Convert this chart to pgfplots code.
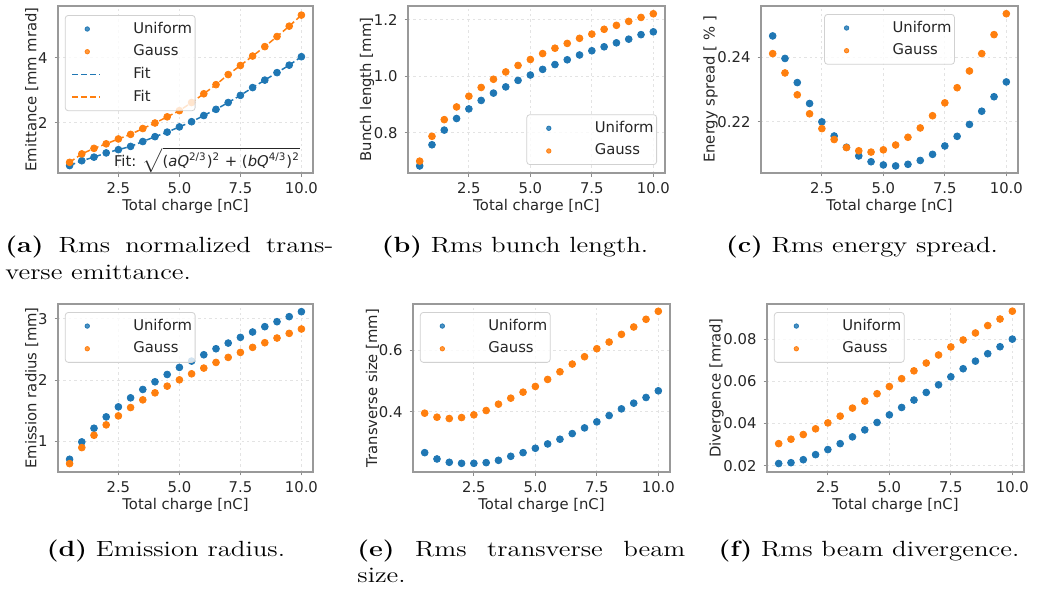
\documentclass[border=0pt]{standalone}
\usepackage{fontspec}
\usepackage{graphicx}
\usepackage{pgfplots}
\usepackage{pgfplotstable}
\pgfplotsset{compat=1.18}
\newfontfamily\dejavu{DejaVu Sans}
\definecolor{tabblue}{HTML}{1F77B4}
\definecolor{taborange}{HTML}{FF7F0E}
\newcommand{\axfont}{\dejavu\fontsize{7.4}{8.5}\selectfont}
\newcommand{\capfont}{\fontsize{11}{13.5}\selectfont}
\newcommand{\legtxt}[1]{\hspace*{9pt}#1}

\pgfplotstableread{
x u g
0.5 0.68 0.78
1.0 0.83 1.04
1.5 0.94 1.21
2.0 1.07 1.35
2.5 1.17 1.50
3.0 1.27 1.64
3.5 1.42 1.82
4.0 1.57 1.99
4.5 1.71 2.18
5.0 1.87 2.37
5.5 2.03 2.62
6.0 2.22 2.89
6.5 2.41 3.17
7.0 2.62 3.48
7.5 2.84 3.76
8.0 3.08 4.05
8.5 3.31 4.34
9.0 3.54 4.65
9.5 3.77 4.97
10.0 4.03 5.31
}\dataA
\pgfplotstableread{
x u g
0.5 0.682 0.699
1.0 0.757 0.787
1.5 0.809 0.846
2.0 0.850 0.891
2.5 0.884 0.929
3.0 0.914 0.960
3.5 0.940 0.989
4.0 0.962 1.015
4.5 0.985 1.038
5.0 1.004 1.059
5.5 1.024 1.080
6.0 1.041 1.099
6.5 1.058 1.116
7.0 1.075 1.134
7.5 1.090 1.149
8.0 1.104 1.166
8.5 1.118 1.180
9.0 1.131 1.194
9.5 1.147 1.208
10.0 1.157 1.221
}\dataB
\pgfplotstableread{
x u g
0.5 0.2467 0.2412
1.0 0.2397 0.2352
1.5 0.2322 0.2284
2.0 0.2257 0.2225
2.5 0.2200 0.2179
3.0 0.2156 0.2145
3.5 0.2121 0.2120
4.0 0.2094 0.2110
4.5 0.2076 0.2106
5.0 0.2066 0.2113
5.5 0.2063 0.2128
6.0 0.2068 0.2152
6.5 0.2080 0.2181
7.0 0.2099 0.2219
7.5 0.2125 0.2259
8.0 0.2155 0.2306
8.5 0.2192 0.2358
9.0 0.2233 0.2412
9.5 0.2278 0.2471
10.0 0.2324 0.2536
}\dataC
\pgfplotstableread{
x u g
0.5 0.712 0.641
1.0 0.995 0.902
1.5 1.217 1.103
2.0 1.402 1.272
2.5 1.565 1.418
3.0 1.712 1.554
3.5 1.848 1.679
4.0 1.973 1.793
4.5 2.092 1.902
5.0 2.207 2.005
5.5 2.310 2.103
6.0 2.413 2.196
6.5 2.511 2.288
7.0 2.603 2.370
7.5 2.696 2.451
8.0 2.783 2.533
8.5 2.870 2.609
9.0 2.951 2.685
9.5 3.033 2.761
10.0 3.114 2.832
}\dataD
\pgfplotstableread{
x u g
0.5 0.2680 0.3957
1.0 0.2476 0.3827
1.5 0.2368 0.3784
2.0 0.2335 0.3816
2.5 0.2335 0.3903
3.0 0.2357 0.4043
3.5 0.2432 0.4249
4.0 0.2562 0.4443
4.5 0.2680 0.4638
5.0 0.2822 0.4822
5.5 0.2962 0.5049
6.0 0.3114 0.5297
6.5 0.3297 0.5546
7.0 0.3481 0.5784
7.5 0.3676 0.6043
8.0 0.3881 0.6259
8.5 0.4097 0.6508
9.0 0.4281 0.6746
9.5 0.4465 0.6995
10.0 0.4681 0.7254
}\dataE
\pgfplotstableread{
x u g
0.5 0.0211 0.0305
1.0 0.0215 0.0326
1.5 0.0229 0.0348
2.0 0.0253 0.0375
2.5 0.0277 0.0403
3.0 0.0305 0.0435
3.5 0.0337 0.0473
4.0 0.0370 0.0506
4.5 0.0405 0.0541
5.0 0.0441 0.0575
5.5 0.0476 0.0612
6.0 0.0511 0.0649
6.5 0.0547 0.0686
7.0 0.0583 0.0724
7.5 0.0621 0.0762
8.0 0.0659 0.0795
8.5 0.0695 0.0828
9.0 0.0730 0.0863
9.5 0.0763 0.0894
10.0 0.0799 0.0931
}\dataF

\newcommand{\dotimg}{\node[anchor=center, inner sep=0pt, minimum width=20pt, minimum height=2pt, text height=0pt, text depth=0pt] at (10pt,0pt) {};
  \draw[only marks, mark=*, mark size=1.1pt] plot coordinates {(10pt,0pt)};}
\newcommand{\lineimg}{\node[anchor=center, inner sep=0pt, minimum width=20pt, minimum height=2pt, text height=0pt, text depth=0pt] at (10pt,0pt) {};
  \draw[line width=0.75pt, dash pattern=on 3pt off 1.5pt] (2.5pt,0pt) -- (16.5pt,0pt);}

\pgfplotsset{
 panel/.style={
  scale only axis, anchor=north west,
  xmin=0.025, xmax=10.475,
  xtick={2.5,5,7.5,10}, xticklabels={2.5,5.0,7.5,10.0},
  scaled x ticks=false, scaled y ticks=false,
  tick pos=left, tick align=outside, major tick length=1.75pt,
  tick style={black!45, line width=0.4pt},
  axis line style={black!40, line width=0.6pt},
  grid=major, grid style={dash pattern=on 1.2pt off 1.5pt, black!11, line width=0.4pt},
  tick label style={font=\axfont, text=black!85},
  xticklabel style={yshift=0.5pt},
  label style={font=\axfont, text=black!85},
  xlabel={Total charge [nC]},
  xlabel style={yshift=4pt},
  ylabel style={yshift=-7pt},
  legend cell align=left,
  legend style={font=\axfont, text=black!85, draw=black!18, rounded corners=1.5pt,
    fill=white, fill opacity=0.8, text opacity=1, inner xsep=1pt, inner ysep=2.2pt,
    row sep=2.15pt, column sep=3.5pt,
    nodes={inner xsep=0.5pt, inner ysep=1pt, text height=5.6pt, text depth=1.6pt}},
 },
 udot/.style={only marks, mark=*, mark size=1.7pt, color=#1, legend image code/.code={\dotimg}},
 ufit/.style={no marks, color=#1, line width=0.75pt, dash pattern=on 3pt off 1.5pt, legend image code/.code={\lineimg}},
}

\begin{document}
\begin{tikzpicture}
\path (0pt,0pt) rectangle (521.5pt,294.5pt);

% (a)
\begin{axis}[panel, at={(29pt,291.5pt)}, width=127.5pt, height=83.5pt,
  ymin=0.452, ymax=5.59, ytick={2,4}, yticklabels={2,4},
  ylabel={Emittance [mm mrad]},
  legend style={at={(0.027,0.946)}, anchor=north west}]
\addplot[udot=tabblue] table[x=x,y=u]{\dataA};
\addplot[udot=taborange] table[x=x,y=g]{\dataA};
\addplot[ufit=tabblue] table[x=x,y=u]{\dataA};
\addplot[ufit=taborange] table[x=x,y=g]{\dataA};
\legend{\legtxt{Uniform},\legtxt{Gauss},\legtxt{Fit},\legtxt{Fit}}
\node[anchor=base east, font=\axfont, text=black!85, inner sep=0pt] at (axis description cs:0.95,0.036)
  {Fit: $\sqrt{\mbox{\axfont(\textit{aQ}\textsuperscript{2/3})\textsuperscript{2} + (\textit{bQ}\textsuperscript{4/3})\textsuperscript{2}}}$};
\end{axis}

% (b)
\begin{axis}[panel, at={(204pt,291.5pt)}, width=128.5pt, height=83.5pt,
  ymin=0.657, ymax=1.2485, ytick={0.8,1.0,1.2}, yticklabels={0.8,1.0,1.2},
  ylabel={Bunch length [mm]},
  legend style={at={(0.969,0.048)}, anchor=south east}]
\addplot[udot=tabblue] table[x=x,y=u]{\dataB};
\addplot[udot=taborange] table[x=x,y=g]{\dataB};
\legend{\legtxt{Uniform},\legtxt{Gauss}}
\end{axis}

% (c)
\begin{axis}[panel, at={(380.5pt,291.5pt)}, width=128.5pt, height=83.5pt,
  ymin=0.2041, ymax=0.2560, ytick={0.22,0.24}, yticklabels={0.22,0.24},
  ylabel={Energy spread [ \% ]},
  legend style={at={(0.5,0.952)}, anchor=north}]
\addplot[udot=tabblue] table[x=x,y=u]{\dataC};
\addplot[udot=taborange] table[x=x,y=g]{\dataC};
\legend{\legtxt{Uniform},\legtxt{Gauss}}
\end{axis}

% (d)
\begin{axis}[panel, at={(29pt,142.5pt)}, width=127.5pt, height=84pt,
  ymin=0.505, ymax=3.239, ytick={1,2,3}, yticklabels={1,2,3},
  ylabel={Emission radius [mm]},
  legend style={at={(0.027,0.952)}, anchor=north west}]
\addplot[udot=tabblue] table[x=x,y=u]{\dataD};
\addplot[udot=taborange] table[x=x,y=g]{\dataD};
\legend{\legtxt{Uniform},\legtxt{Gauss}}
\end{axis}

% (e)
\begin{axis}[panel, at={(206.5pt,142.5pt)}, width=128.5pt, height=84pt,
  ymin=0.2054, ymax=0.749, ytick={0.4,0.6}, yticklabels={0.4,0.6},
  ylabel={Transverse size [mm]},
  legend style={at={(0.027,0.952)}, anchor=north west}]
\addplot[udot=tabblue] table[x=x,y=u]{\dataE};
\addplot[udot=taborange] table[x=x,y=g]{\dataE};
\legend{\legtxt{Uniform},\legtxt{Gauss}}
\end{axis}

% (f)
\begin{axis}[panel, at={(383.5pt,142.5pt)}, width=128.5pt, height=84pt,
  ymin=0.0171, ymax=0.0965, ytick={0.02,0.04,0.06,0.08}, yticklabels={0.02,0.04,0.06,0.08},
  ylabel={Divergence [mrad]},
  legend style={at={(0.027,0.952)}, anchor=north west}]
\addplot[udot=tabblue] table[x=x,y=u]{\dataF};
\addplot[udot=taborange] table[x=x,y=g]{\dataF};
\legend{\legtxt{Uniform},\legtxt{Gauss}}
\end{axis}

% captions
\node[anchor=base west, inner sep=0pt] at (2.5pt,168pt)
  {\scalebox{1.22}[1]{\parbox[t]{134.4pt}{\capfont\textbf{(a)} Rms normalized trans-\linebreak verse emittance.}}};
\node[anchor=base, inner sep=0pt] at (257.5pt,168pt)
  {\scalebox{1.22}[1]{\capfont\textbf{(b)} Rms bunch length.}};
\node[anchor=base, inner sep=0pt] at (431pt,168pt)
  {\scalebox{1.22}[1]{\capfont\textbf{(c)} Rms energy spread.}};
\node[anchor=base, inner sep=0pt] at (83pt,16.5pt)
  {\scalebox{1.22}[1]{\capfont\textbf{(d)} Emission radius.}};
\node[anchor=base west, inner sep=0pt] at (178.5pt,16.5pt)
  {\scalebox{1.22}[1]{\parbox[t]{134.4pt}{\capfont\textbf{(e)} Rms transverse beam\linebreak size.}}};
\node[anchor=base, inner sep=0pt] at (434.5pt,16.5pt)
  {\scalebox{1.22}[1]{\capfont\textbf{(f)} Rms beam divergence.}};
\end{tikzpicture}
\end{document}
